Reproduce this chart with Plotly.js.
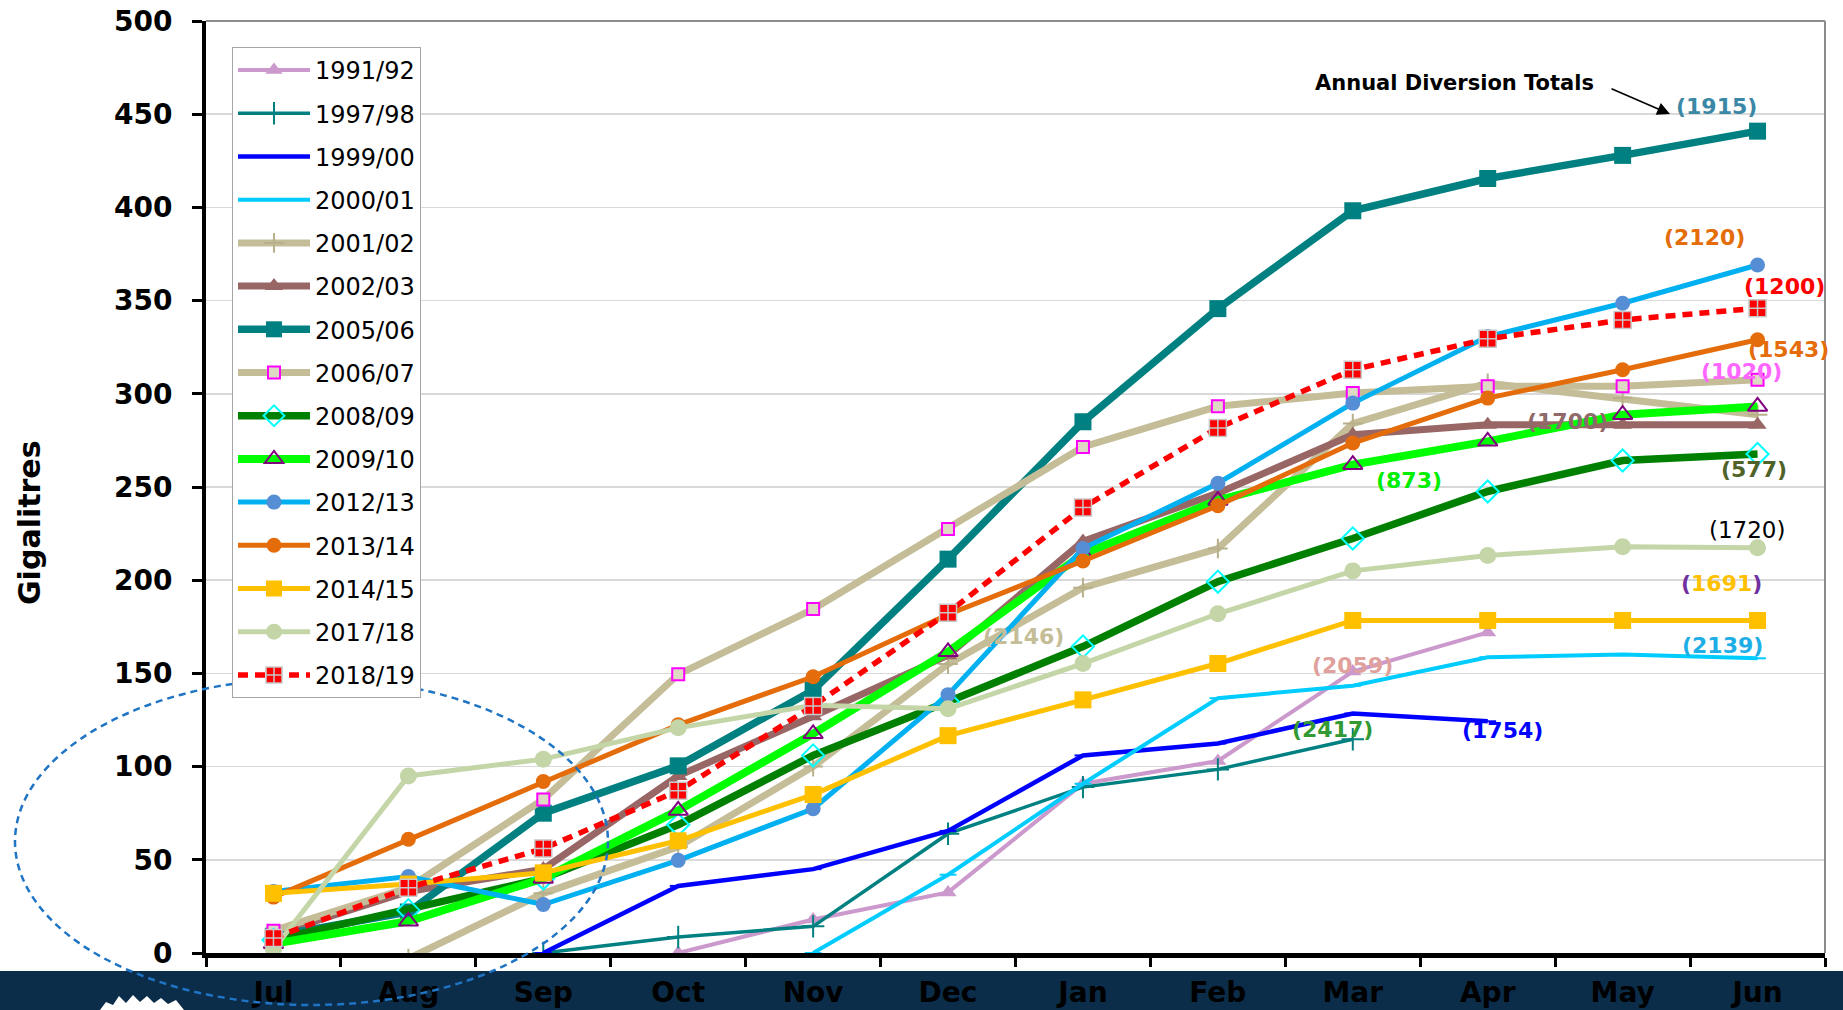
<!DOCTYPE html>
<html>
<head>
<meta charset="utf-8">
<script src="https://cdn.plot.ly/plotly-3.0.1.min.js"></script>
<style>
  html, body { margin: 0; padding: 0; background: #ffffff; }
  #chart { width: 1843px; height: 1010px; }
</style>
</head>
<body>
<div id="chart"></div>
<script>
// ---------- DATA ----------
const months = ['Jul','Aug','Sep','Oct','Nov','Dec','Jan','Feb','Mar','Apr','May','Jun'];

const y1991_92 = [null, null, null, 0, 18, 32.5, 90.8, 103, 151, 172, null, null];
const y1997_98 = [null, null, 0, 8.6, 14.3, 64, 89, 98.5, 114.7, null, null, null];
const y1999_00 = [null, null, 0, 36, 45, 65.5, 106, 112.4, 128.5, 124.3, null, null];
const y2000_01 = [null, null, null, null, 0, 42, 90.8, 136.7, 143.4, 158.7, 160.2, 158.1];
const y2001_02 = [null, -3, 32, 57, 100, 155, 196, 217, 284, 305.7, 297.7, 288.8];
const y2002_03 = [10, 33, 45, 95, 127, 159.7, 220.8, 246.7, 278, 283.4, 283.4, 283.4];
const y2005_06 = [9, 22, 75, 100.4, 141, 211.3, 285, 345.7, 398.2, 415.5, 427.9, 440.9];
const y2006_07 = [12, 35, 82.4, 149.5, 184.5, 227.5, 271.5, 293.3, 300.4, 304, 304, 307.5];
const y2008_09 = [7, 23, 40, 68.8, 106, 134.8, 164.4, 199.2, 222.4, 247.6, 264.2, 267.7];
const y2009_10 = [5, 17, 40, 76.5, 117.6, 161.6, 214, 242.8, 262, 274.5, 288.8, 293.2];
const y2012_13 = [33, 41, 26, 49.7, 77.4, 138.6, 217, 252, 295, 330.7, 348.6, 369.1];
const y2013_14 = [30, 61, 92, 122.4, 148.2, 181.6, 210.3, 240, 273.6, 297.7, 312.9, 329];
const y2014_15 = [32, 37, 43, 60.2, 85, 116.6, 135.8, 155.3, 178.4, 178.4, 178.4, 178.4];
const y2017_18 = [2, 95, 104, 120.8, 132.9, 131, 155.3, 182, 205, 213.2, 218, 217.4];
const y2018_19 = [8, 35, 56, 87, 132.5, 182.6, 239, 281.7, 312.9, 329.5, 339.6, 345.9];

const seasonNames = ['1991/92','1997/98','1999/00','2000/01','2001/02','2002/03','2005/06',
                     '2006/07','2008/09','2009/10','2012/13','2013/14','2014/15','2017/18','2018/19'];

// annual diversion total labels
const totalLabels = ['(1915)','(2120)','(1200)','(1543)','(1020)','(1700)','(873)','(577)',
                     '(1720)','(1691)','(2146)','(2139)','(2059)','(2417)','(1754)'];

const yTitle = 'Gigalitres';
const noteText = 'Annual Diversion Totals';

// ---------- STYLES ----------
const seriesValues = [y1991_92,y1997_98,y1999_00,y2000_01,y2001_02,y2002_03,y2005_06,
                      y2006_07,y2008_09,y2009_10,y2012_13,y2013_14,y2014_15,y2017_18,y2018_19];

const styles = [
  {line:{color:'#cc99cc', width:4}, marker:{symbol:'triangle-up', size:15, color:'#cc99cc'}},
  {line:{color:'#008080', width:3.5}, marker:{symbol:'cross-thin', size:16, color:'#008080', line:{color:'#008080', width:2}}},
  {line:{color:'#0000ff', width:4.5}, marker:{symbol:'line-ew', size:12, color:'#0000ff', line:{color:'#0000ff', width:2}}},
  {line:{color:'#00ccff', width:4}, marker:{symbol:'line-ew', size:12, color:'#00ccff', line:{color:'#00ccff', width:2}}},
  {line:{color:'#c4bd97', width:7}, marker:{symbol:'cross-thin', size:14, color:'#b8b08a', line:{color:'#b8b08a', width:2}}},
  {line:{color:'#996666', width:7}, marker:{symbol:'triangle-up', size:16, color:'#996666'}},
  {line:{color:'#008080', width:7.5}, marker:{symbol:'square', size:17, color:'#008080'}},
  {line:{color:'#c4bd97', width:7}, marker:{symbol:'square', size:12, color:'#ddd9c3', line:{color:'#ff00ff', width:2}}},
  {line:{color:'#008000', width:7.5}, marker:{symbol:'diamond', size:17, color:'rgba(0,0,0,0)', line:{color:'#00ffff', width:2}}},
  {line:{color:'#00ff00', width:8}, marker:{symbol:'triangle-up', size:17, color:'rgba(0,0,0,0)', line:{color:'#800080', width:2}}},
  {line:{color:'#00b0f0', width:5}, marker:{symbol:'circle', size:15, color:'#558ed5'}},
  {line:{color:'#e46c0a', width:5}, marker:{symbol:'circle', size:15, color:'#e46c0a'}},
  {line:{color:'#ffc000', width:5}, marker:{symbol:'square', size:17, color:'#ffc000'}},
  {line:{color:'#c4d6a8', width:5}, marker:{symbol:'circle', size:17, color:'#c4d6a8'}},
  {line:{color:'#ff0000', width:5.5, dash:'10px,7px'}, marker:{symbol:'square-cross', size:17, color:'#ff0000', line:{color:'#c8c8c8', width:1.5}}}
];

const traces = seasonNames.map((nm, i) => ({
  type: 'scatter',
  mode: 'lines+markers',
  name: nm,
  legendgroup: nm,
  x: months,
  y: seriesValues[i],
  line: styles[i].line,
  marker: styles[i].marker,
  cliponaxis: true,
  hoverinfo: 'skip'
}));

// ---------- LAYOUT HELPERS ----------
const W = 1843, H = 1010;
const M = {l: 206, r: 18, t: 21, b: 57};
const PW = W - M.l - M.r, PH = H - M.t - M.b;
const px = x => (x - M.l) / PW;          // pixel -> paper x
const py = y => (H - M.b - y) / PH;      // pixel -> paper y

const labelStyle = [
  {pos:[1716,106], color:'#3a88a6'},
  {pos:[1704,237], color:'#e46c0a'},
  {pos:[1784,286], color:'#ff0000'},
  {pos:[1788,349], color:'#e46c0a'},
  {pos:[1741,371], color:'#ff66ff'},
  {pos:[1567,421], color:'#8f6a6a'},
  {pos:[1409,480], color:'#00ee00'},
  {pos:[1754,469], color:'#4f6228'},
  {pos:[1747,530], color:'#000000', normal:true},
  {pos:[1721,584], color:'#7030a0', inner:'#ffc000'},
  {pos:[1023,636], color:'#c4bd97'},
  {pos:[1722,645], color:'#1eaee6'},
  {pos:[1352,665], color:'#e0a09c'},
  {pos:[1332,729], color:'#339933'},
  {pos:[1502,730], color:'#0000ff'}
];

const annotations = totalLabels.map((t, i) => {
  const s = labelStyle[i];
  let txt = t;
  if (s.inner) {
    txt = '(<span style="color:' + s.inner + '">' + t.slice(1, -1) + '</span>)';
  }
  return {
    xref: 'paper', yref: 'paper', x: px(s.pos[0]), y: py(s.pos[1]),
    xanchor: 'center', yanchor: 'middle', showarrow: false, text: txt,
    font: {family: 'DejaVu Sans', size: s.normal ? 23 : 22, color: s.color, weight: s.normal ? 'normal' : 'bold'}
  };
});

annotations.push({
  xref: 'paper', yref: 'paper', x: px(1454), y: py(83), xanchor: 'center', yanchor: 'middle',
  showarrow: false, text: noteText,
  font: {family: 'DejaVu Sans', size: 21, color: '#000000', weight: 'bold'}
});
annotations.push({
  xref: 'paper', yref: 'paper', x: px(1670), y: py(114), text: '', showarrow: true,
  ax: -60, ay: -26, arrowhead: 2, arrowsize: 1.6, arrowwidth: 1.6, arrowcolor: '#000000',
  standoff: 0, startstandoff: 0
});
// y-axis title (placed lower than axis centre, as in the original)
annotations.push({
  xref: 'paper', yref: 'paper', x: px(29), y: py(523), xanchor: 'center', yanchor: 'middle',
  showarrow: false, text: yTitle, textangle: -90,
  font: {family: 'DejaVu Sans', size: 30, color: '#000000', weight: 'bold'}
});

// logo zigzag (decoration in bottom band)
const logoPts = [[100,1010],[106,1002],[113,1005],[119,996],[126,1003],[133,995],[140,1002],
                 [147,996],[154,1003],[161,998],[168,1004],[176,1000],[184,1010]];
const logoPath = 'M' + logoPts.map(p => px(p[0]).toFixed(5) + ',' + py(p[1]).toFixed(5)).join(' L') + ' Z';

const shapes = [
  {type:'rect', xref:'paper', yref:'paper', x0: px(0), x1: px(W), y0: py(971), y1: py(H + 2),
   fillcolor:'#0b2d4a', line:{width:0}, layer:'below'},
  {type:'path', xref:'paper', yref:'paper', path: logoPath, fillcolor:'#ffffff', line:{width:0}, layer:'below'},
  {type:'line', xref:'paper', yref:'paper', x0:0, x1:1, y0:1, y1:1, line:{color:'#8c8c8c', width:2}, layer:'above'},
  {type:'line', xref:'paper', yref:'paper', x0:1, x1:1, y0:0, y1:1, line:{color:'#8c8c8c', width:2}, layer:'above'},
  {type:'circle', xref:'paper', yref:'paper', x0: px(15), x1: px(608), y0: py(1005), y1: py(678),
   line:{color:'#1f74c4', width:2.5, dash:'7px,5px'}, fillcolor:'rgba(0,0,0,0)', layer:'above'}
];

const layout = {
  width: W, height: H,
  margin: M,
  paper_bgcolor: '#ffffff',
  plot_bgcolor: '#ffffff',
  showlegend: true,
  legend: {
    x: px(232), y: py(47), xanchor: 'left', yanchor: 'top',
    bgcolor: '#ffffff', bordercolor: '#a6a6a6', borderwidth: 1,
    font: {family: 'DejaVu Sans', size: 24, color: '#000000'},
    tracegroupgap: 9, itemwidth: 72, traceorder: 'grouped'
  },
  xaxis: {
    type: 'category',
    categoryorder: 'array', categoryarray: months,
    range: [-0.5, 11.5],
    showline: true, linecolor: '#000000', linewidth: 5,
    ticks: 'outside', tickson: 'boundaries', ticklen: 9, tickwidth: 3, tickcolor: '#000000',
    showgrid: false, zeroline: false,
    tickfont: {family: 'DejaVu Sans', size: 28, color: '#000000', weight: 'bold'},
    ticklabelstandoff: 10,
    fixedrange: true
  },
  yaxis: {
    range: [0, 500], dtick: 50, tick0: 0,
    showline: true, linecolor: '#000000', linewidth: 4,
    ticks: 'outside', ticklen: 10, tickwidth: 3, tickcolor: '#000000',
    showgrid: true, gridcolor: '#d9d9d9', gridwidth: 1.5,
    zeroline: false,
    tickfont: {family: 'DejaVu Sans', size: 28, color: '#000000', weight: 'bold'},
    ticklabelstandoff: 14,
    fixedrange: true
  },
  annotations: annotations,
  shapes: shapes
};

Plotly.newPlot('chart', traces, layout, {displayModeBar: false, staticPlot: true});
</script>
</body>
</html>
